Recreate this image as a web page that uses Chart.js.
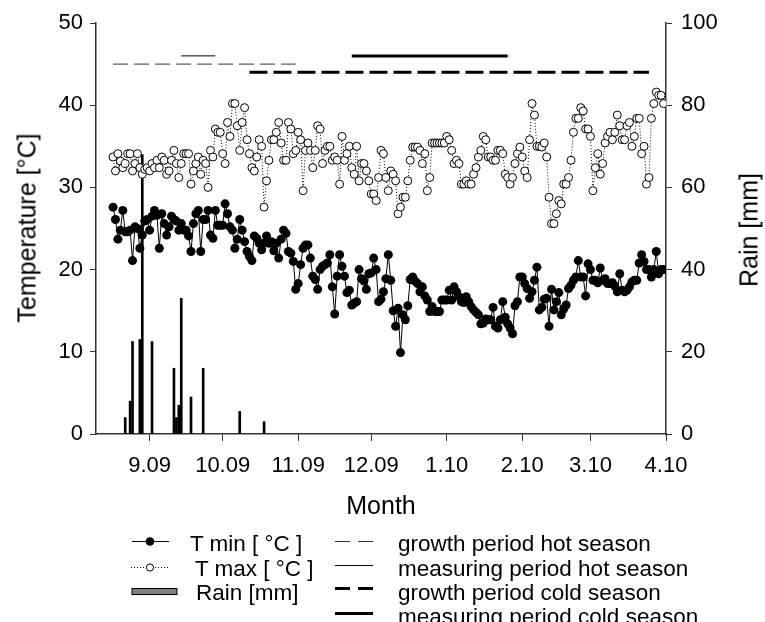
<!DOCTYPE html>
<html>
<head>
<meta charset="utf-8">
<script src="https://cdn.jsdelivr.net/npm/chart.js@4/dist/chart.umd.min.js"></script>
<style>
  body { margin: 0; background: #fff; overflow: hidden; }
  #wrap { position: relative; width: 765px; height: 622px; font-family: Arial, "Liberation Sans", sans-serif; color: #000; }
  #wrap canvas { position: absolute; left: 0; top: 0; }
  .title { position: absolute; font-size: 25px; line-height: 25px; white-space: nowrap; transform: translate(-50%, -50%); }
  .rot { transform: translate(-50%, -50%) rotate(-90deg); }
  .leg { position: absolute; font-size: 22.5px; line-height: 24px; white-space: nowrap; }
  svg { position: absolute; left: 0; top: 0; }
</style>
</head>
<body>
<div id="wrap">
  <canvas id="chart" width="765" height="622"></canvas>
  <div class="title rot" style="left:27px; top:228px;">Temperature [°C]</div>
  <div class="title rot" style="left:749px; top:230px;">Rain [mm]</div>
  <div class="title" style="left:381px; top:505px;">Month</div>

  <!-- legende -->
  <svg width="765" height="622">
    <line x1="132" y1="541.5" x2="169" y2="541.5" stroke="#000" stroke-width="1"/>
    <circle cx="150" cy="541.5" r="4.3" fill="#000"/>
    <line x1="131" y1="567.5" x2="170" y2="567.5" stroke="#000" stroke-width="1" stroke-dasharray="1 2"/>
    <circle cx="150" cy="567.5" r="3.6" fill="#fff" stroke="#000" stroke-width="1"/>
    <rect x="132" y="588.5" width="45" height="6" fill="#808080" stroke="#000" stroke-width="1"/>
    <line x1="335" y1="541.5" x2="373" y2="541.5" stroke="#333" stroke-width="1" stroke-dasharray="15 8"/>
    <line x1="335" y1="565.5" x2="373" y2="565.5" stroke="#000" stroke-width="1"/>
    <line x1="335" y1="588.5" x2="373" y2="588.5" stroke="#000" stroke-width="3" stroke-dasharray="15 8"/>
    <line x1="335" y1="613.5" x2="373" y2="613.5" stroke="#000" stroke-width="3"/>
  </svg>
  <div class="leg" style="left:190px; top:532px;">T min [ °C ]</div>
  <div class="leg" style="left:195px; top:557px;">T max [ °C ]</div>
  <div class="leg" style="left:196px; top:581px;">Rain [mm]</div>
  <div class="leg" style="left:398px; top:532px;">growth period hot season</div>
  <div class="leg" style="left:398px; top:557px;">measuring period hot season</div>
  <div class="leg" style="left:398px; top:581px;">growth period cold season</div>
  <div class="leg" style="left:398px; top:605px;">measuring period cold season</div>
</div>

<script>
// x = days since 10.08.2009
const firstDay = 7; // 17.08.2009, first daily reading

// daily T max [°C], 17.08.2009 -> 31.03.2010
const tMax = [
  33.7, 32.0, 34.1, 33.2, 32.4, 32.9, 34.1, 34.1, 32.0, 32.9,
  34.1, 32.4, 31.6, 32.2, 32.4, 32.0, 32.9, 32.4, 33.3, 32.4,
  33.7, 33.3, 31.6, 32.0, 33.3, 34.5, 32.9, 31.2, 32.9, 34.1,
  34.1, 34.1, 30.4, 32.0, 32.9, 33.7, 31.6, 33.3, 32.9, 30.0,
  34.5, 33.7, 37.1, 36.7, 36.7, 34.1, 32.9, 37.9, 36.2, 40.2,
  40.2, 37.5, 34.5, 37.9, 39.7, 35.8, 34.1, 32.4, 32.0, 33.7,
  35.8, 35.0, 27.6, 30.8, 33.3, 35.8, 35.8, 36.7, 37.9, 35.4,
  33.3, 33.3, 37.9, 37.1, 34.1, 34.5, 36.7, 35.8, 29.6, 34.5,
  35.4, 34.5, 32.4, 34.5, 37.5, 37.1, 32.9, 34.5, 35.0, 35.0,
  33.3, 33.7, 33.3, 30.4, 36.2, 33.3, 34.1, 35.0, 32.4, 31.6,
  35.0, 30.8, 32.9, 32.9, 32.0, 30.8, 29.2, 29.2, 28.4, 31.2,
  34.5, 34.1, 31.2, 29.6, 32.0, 31.6, 30.8, 26.8, 27.6, 28.8,
  28.8, 30.8, 33.3, 34.9, 34.9, 34.9, 34.5, 32.9, 34.1, 29.6,
  31.2, 35.4, 35.4, 35.4, 35.4, 35.4, 35.4, 36.2, 35.8, 34.5,
  32.9, 33.3, 32.9, 30.4, 30.4, 30.8, 30.4, 30.4, 31.6, 32.4,
  33.7, 34.5, 36.2, 35.8, 33.7, 33.7, 33.3, 33.3, 34.5, 34.5,
  34.1, 31.6, 31.2, 30.4, 31.2, 32.9, 34.1, 34.9, 33.7, 32.0,
  31.2, 35.8, 40.2, 38.8, 35.0, 35.0, 34.9, 35.4, 33.7, 28.8,
  25.6, 25.6, 26.8, 28.4, 28.0, 30.4, 30.4, 31.2, 33.3, 36.7,
  38.4, 38.4, 39.7, 39.3, 37.1, 37.1, 36.2, 29.6, 32.4, 34.1,
  31.6, 32.9, 35.4, 36.2, 36.7, 35.8, 36.7, 38.8, 37.5, 35.8,
  35.8, 37.5, 37.9, 35.0, 36.2, 38.4, 38.4, 34.1, 35.0, 30.4,
  31.2, 38.4, 40.2, 41.6, 41.2, 41.2, 40.2
];

// daily T min [°C], same days
const tMin = [
  27.6, 26.1, 23.7, 24.8, 27.2, 24.6, 24.6, 24.8, 21.1, 25.2,
  25.0, 22.6, 24.2, 25.9, 26.1, 24.8, 26.5, 27.2, 26.6, 22.6,
  26.8, 25.6, 24.2, 25.2, 26.5, 26.1, 25.9, 24.8, 25.6, 24.8,
  24.8, 24.1, 22.2, 25.6, 26.8, 27.2, 22.2, 26.1, 26.1, 27.2,
  24.2, 23.8, 27.2, 25.4, 25.4, 25.4, 28.0, 26.8, 25.2, 24.8,
  22.6, 23.7, 26.1, 24.8, 23.4, 22.2, 21.6, 21.1, 24.1, 23.8,
  23.2, 22.4, 23.2, 24.1, 23.2, 23.4, 22.3, 23.2, 21.4, 23.7,
  24.8, 24.4, 22.2, 22.0, 21.0, 17.6, 18.3, 20.6, 22.6, 23.0,
  23.0, 21.4, 19.2, 18.8, 17.6, 20.0, 20.4, 20.6, 20.8, 21.8,
  17.9, 14.6, 19.2, 21.8, 20.4, 19.2, 17.2, 17.5, 15.7, 15.9,
  16.1, 20.0, 18.9, 18.6, 17.6, 19.5, 19.6, 21.4, 20.0, 16.1,
  16.4, 17.3, 18.9, 21.8, 18.7, 15.0, 13.1, 15.3, 9.9, 14.5,
  13.9, 15.6, 18.8, 19.1, 18.6, 18.3, 17.3, 17.9, 16.8, 16.3,
  14.9, 15.5, 14.9, 14.9, 14.9, 16.3, 16.3, 16.3, 17.5, 16.3,
  17.9, 17.3, 16.7, 16.1, 16.0, 16.7, 16.1, 15.5, 15.1, 14.8,
  14.5, 13.4, 13.5, 14.0, 13.9, 13.9, 15.4, 13.1, 12.9, 13.9,
  16.1, 14.2, 13.4, 12.9, 12.2, 15.6, 16.1, 19.1, 19.1, 18.3,
  17.7, 16.5, 17.3, 18.7, 20.3, 15.1, 15.4, 16.4, 16.5, 13.1,
  17.6, 15.1, 16.1, 17.2, 14.5, 15.2, 15.7, 17.7, 18.1, 18.7,
  19.1, 21.1, 19.1, 19.1, 16.8, 20.7, 20.0, 18.7, 18.7, 18.4,
  20.2, 18.7, 18.9, 18.3, 18.3, 18.4, 18.0, 17.3, 19.5, 17.5,
  17.3, 17.5, 17.9, 18.5, 18.7, 18.7, 20.8, 21.8, 21.0, 20.0,
  20.0, 19.1, 20.0, 22.2, 19.5, 20.0, 20.0
];

// pluie [mm]
const rainDays = [12, 14, 15, 18, 19, 23, 32, 33, 34, 35, 39, 44, 59, 69];
const rainMm = [4, 8, 22.5, 23, 68, 22.5, 16, 4, 7, 33, 9, 16, 5.5, 3];

// periodes (jour debut, jour fin) + niveau sur l'axe temperature
const hotGrowth = [7, 82];
const hotMeasure = [35, 49];
const coldGrowth = [63, 227];
const coldMeasure = [105, 169];
const periodLevels = { hotGrowth: 45, hotMeasure: 46, coldGrowth: 44, coldMeasure: 46 };

// axe des mois
const monthTickDays = [22, 52, 83, 113, 144, 175, 203, 234];
const monthLabels = ["9.09", "10.09", "11.09", "12.09", "1.10", "2.10", "3.10", "4.10"];

const tMinPts = tMin.map((v, i) => ({ x: firstDay + i, y: v }));
const tMaxPts = tMax.map((v, i) => ({ x: firstDay + i, y: v }));
const rainPts = rainDays.map((d, i) => ({ x: d, y: rainMm[i] }));
const seg = (p, lvl) => [{ x: p[0], y: lvl }, { x: p[1], y: lvl }];

const FONT = "Arial, 'Liberation Sans', sans-serif";
const axisCol = "#333";

function axisGrid(len) {
  return { drawOnChartArea: false, drawTicks: true, tickLength: len, color: axisCol, lineWidth: 1, offset: false };
}

new Chart(document.getElementById("chart").getContext("2d"), {
  type: "line",
  data: {
    datasets: [
      {
        type: "bar", label: "Rain [mm]", data: rainPts, yAxisID: "y2",
        backgroundColor: "#000", borderWidth: 0, barThickness: 2, order: 10
      },
      {
        label: "T min [ °C ]", data: tMinPts, yAxisID: "y",
        borderColor: "#000", borderWidth: 1, pointRadius: 4.5,
        pointBackgroundColor: "#000", pointBorderColor: "#000", pointBorderWidth: 0, order: 4
      },
      {
        label: "T max [ °C ]", data: tMaxPts, yAxisID: "y",
        borderColor: "#000", borderWidth: 1, borderDash: [1, 2], pointRadius: 4,
        pointBackgroundColor: "#fff", pointBorderColor: "#000", pointBorderWidth: 1, order: 3
      },
      {
        label: "growth period hot season", data: seg(hotGrowth, periodLevels.hotGrowth), yAxisID: "y",
        borderColor: "#333", borderWidth: 1, borderDash: [15, 6], pointRadius: 0, order: 1
      },
      {
        label: "measuring period hot season", data: seg(hotMeasure, periodLevels.hotMeasure), yAxisID: "y",
        borderColor: "#000", borderWidth: 1, pointRadius: 0, order: 1
      },
      {
        label: "growth period cold season", data: seg(coldGrowth, periodLevels.coldGrowth), yAxisID: "y",
        borderColor: "#000", borderWidth: 3, borderDash: [18, 6], pointRadius: 0, borderCapStyle: "butt", order: 1
      },
      {
        label: "measuring period cold season", data: seg(coldMeasure, periodLevels.coldMeasure), yAxisID: "y",
        borderColor: "#000", borderWidth: 3, pointRadius: 0, order: 1
      }
    ]
  },
  options: {
    responsive: false,
    animation: false,
    layout: { padding: { top: 23, bottom: 102, left: 0, right: 0 } },
    plugins: { legend: { display: false }, tooltip: { enabled: false } },
    scales: {
      x: {
        type: "linear", min: 0, max: 234, offset: false,
        afterBuildTicks: s => { s.ticks = monthTickDays.map(v => ({ value: v })); },
        afterFit: s => { s.height = 86; },
        ticks: {
          autoSkip: false, maxRotation: 0, padding: 12, color: "#000",
          font: { family: FONT, size: 22 },
          callback: v => monthLabels[monthTickDays.indexOf(v)]
        },
        grid: axisGrid(7),
        border: { display: true, color: axisCol, width: 1.5 }
      },
      y: {
        position: "left", min: 0, max: 50,
        afterFit: s => { s.width = 96; },
        ticks: { stepSize: 10, padding: 7, color: "#000", font: { family: FONT, size: 22 } },
        grid: axisGrid(6),
        border: { display: true, color: axisCol, width: 1.5 }
      },
      y2: {
        position: "right", min: 0, max: 100,
        afterFit: s => { s.width = 99; },
        ticks: { stepSize: 20, padding: 9, color: "#000", font: { family: FONT, size: 22 } },
        grid: axisGrid(6),
        border: { display: true, color: axisCol, width: 1.5 }
      }
    }
  }
});
</script>
</body>
</html>
